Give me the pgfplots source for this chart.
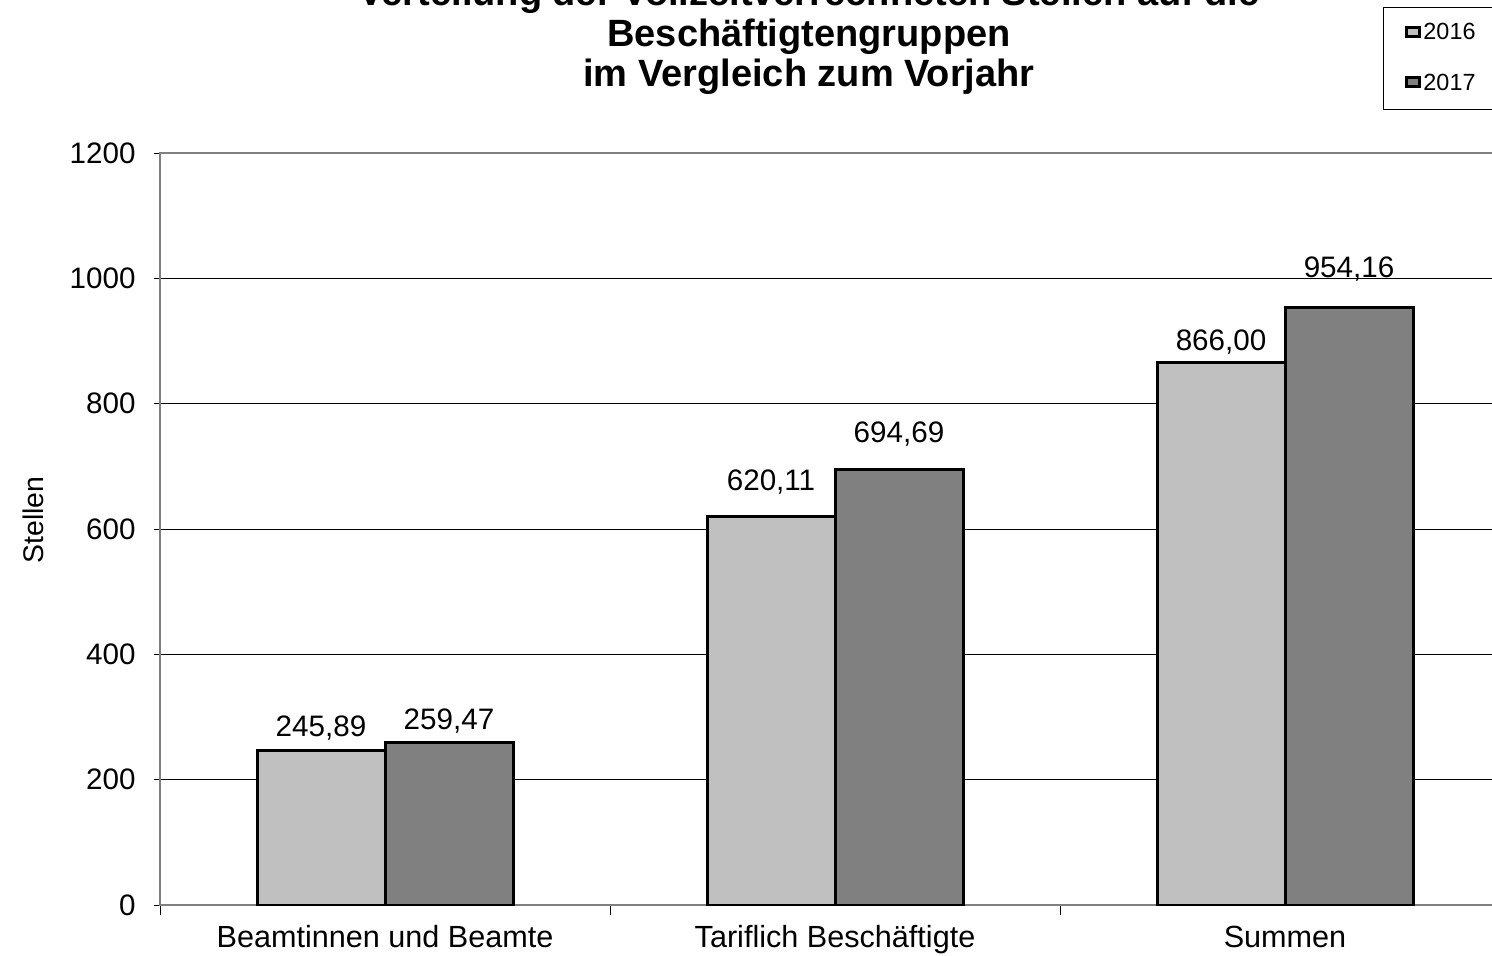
\documentclass[border=0pt]{standalone}
\usepackage{fontspec}
\setmainfont{Liberation Sans}
\usepackage{pgfplots}
\pgfplotsset{compat=1.18}
\usepackage{pgfplotstable}
\definecolor{lg}{HTML}{C0C0C0}
\definecolor{dg}{HTML}{808080}

\pgfplotstableread{
x y off
0 245.89 7
1 620.11 13
2 866.00 6
}\dataA
\pgfplotstableread{
x y off
0 259.47 6.5
1 694.69 13.5
2 954.16 15
}\dataB

\begin{document}
\begin{tikzpicture}
\begin{axis}[
  at={(80pt,25pt)}, anchor=south west,
  scale only axis, width=675pt, height=376pt,
  xmin=-0.5, xmax=2.5, ymin=0, ymax=1200,
  ybar=0pt, bar width=64pt,
  /pgf/number format/assume math mode=true,
  /pgf/number format/1000 sep={},
  ytick={0,200,...,1200},
  ymajorgrids, grid style={black, line width=0.5pt},
  xtick={0,1,2},
  xticklabels={Beamtinnen und Beamte, Tariflich Beschäftigte, Summen},
  minor xtick={-0.5,0.5,1.5,2.5},
  major x tick style={draw=none},
  tick style={black, line width=0.5pt},
  tick align=outside, tick pos=left,
  major tick length=3pt, minor tick length=5pt,
  axis line style={dg, line width=1pt},
  yticklabel style={font=\fontsize{14.8}{17}\selectfont, inner sep=0pt, xshift=-9pt},
  xticklabel style={font=\fontsize{15.3}{18}\selectfont, inner sep=0pt, text height=11.2pt, text depth=3.2pt, anchor=north, yshift=-7pt},
  ylabel={Stellen},
  ylabel style={at={(axis description cs:-0.094,0.512)}, anchor=center, font=\fontsize{14.2}{17}\selectfont},
  legend style={at={(rel axis cs:0.9059,1.1941)}, anchor=north west, draw=black, line width=0.5pt,
    font=\fontsize{11.7}{14}\selectfont, inner xsep=11pt, inner ysep=7pt, row sep=13.5pt,
    nodes={inner sep=1pt}},
  legend cell align=left,
  legend image code/.code={\draw[#1, line width=1.5pt] (0.75pt,-1.45pt) rectangle (7.25pt,3.05pt);},
  visualization depends on={\thisrow{off} \as \myoff},
  nodes near coords={\pgfmathprintnumber[fixed, fixed zerofill, precision=2, use comma, 1000 sep={}]{\pgfplotspointmeta}},
  nodes near coords style={anchor=base, inner sep=0pt, yshift=\myoff pt, font=\fontsize{14.8}{17}\selectfont, black},
]
\addplot[fill=lg, draw=black, line width=1.5pt] table[x=x, y=y] {\dataA};
\addplot[fill=dg, draw=black, line width=1.5pt] table[x=x, y=y] {\dataB};
\legend{2016, 2017}
\end{axis}
\node[anchor=base, font=\fontsize{19}{20.5}\selectfont\bfseries] at (404.5pt,474.5pt) {Verteilung der Vollzeitverrechneten Stellen auf die};
\node[anchor=base, font=\fontsize{19}{20.5}\selectfont\bfseries] at (404.5pt,454pt) {Beschäftigtengruppen};
\node[anchor=base, font=\fontsize{19}{20.5}\selectfont\bfseries] at (404.5pt,434pt) {im Vergleich zum Vorjahr};
\pgfresetboundingbox
\useasboundingbox (0,0) rectangle (746pt,477.5pt);
\end{tikzpicture}
\end{document}
